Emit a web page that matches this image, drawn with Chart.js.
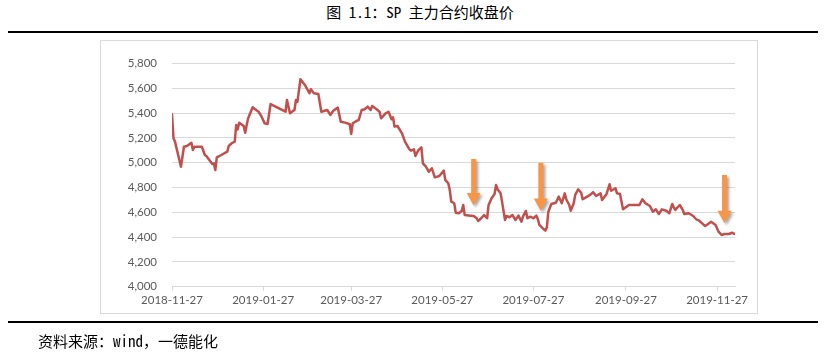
<!DOCTYPE html>
<html>
<head>
<meta charset="utf-8">
<script src="https://cdn.jsdelivr.net/npm/chart.js@4/dist/chart.umd.min.js"></script>
<style>
html,body{margin:0;padding:0;background:#fff;}
#wrap{position:relative;width:840px;height:352px;overflow:hidden;background:#fff;}
#title{position:absolute;left:0;top:2px;width:840px;text-align:center;font-family:"Noto Sans Mono CJK SC","Noto Sans CJK SC",sans-serif;font-weight:500;font-size:15px;line-height:20px;color:#000;white-space:pre;}
#rule1{position:absolute;left:8px;top:31px;width:810px;height:2px;background:#000;}
#box{position:absolute;left:100px;top:40px;width:656px;height:272px;border:1px solid #D9D9D9;}
#rule2{position:absolute;left:8px;top:321px;width:810px;height:2px;background:#000;}
#foot{position:absolute;left:38px;top:331px;font-family:"Noto Sans Mono CJK SC","Noto Sans CJK SC",sans-serif;font-weight:500;font-size:15px;line-height:20px;color:#000;white-space:pre;}
#c{position:absolute;left:0;top:0;}
</style>
</head>
<body>
<div id="wrap">
  <div id="title">图 1.1：SP 主力合约收盘价</div>
  <div id="rule1"></div>
  <div id="box"></div>
  <canvas id="c" width="840" height="352"></canvas>
  <div id="rule2"></div>
  <div id="foot">资料来源：wind，一德能化</div>
</div>
<script>
// ---- data ----
const axisStart = '2018-11-27';
const axisEnd = '2019-12-09';
const tickDates = ['2018-11-27','2019-01-27','2019-03-27','2019-05-27','2019-07-27','2019-09-27','2019-11-27'];
const yMin = 4000, yMax = 5800, yStep = 200;

const dates = [
'2018-11-27','2018-11-28','2018-11-29','2018-12-03','2018-12-05','2018-12-07','2018-12-10','2018-12-11','2018-12-12','2018-12-17',
'2018-12-19','2018-12-20','2018-12-24','2018-12-25','2018-12-26','2018-12-27','2018-12-30','2019-01-03','2019-01-04','2019-01-06',
'2019-01-08','2019-01-09','2019-01-10','2019-01-11','2019-01-14','2019-01-15','2019-01-16','2019-01-17','2019-01-20','2019-01-23',
'2019-01-24','2019-01-26','2019-01-28','2019-01-30','2019-02-01','2019-02-11','2019-02-12','2019-02-14','2019-02-17','2019-02-18',
'2019-02-19','2019-02-21','2019-02-24','2019-02-27','2019-02-28','2019-03-02','2019-03-05','2019-03-07','2019-03-11','2019-03-13',
'2019-03-15','2019-03-18','2019-03-20','2019-03-23','2019-03-26','2019-03-27','2019-03-28','2019-03-31','2019-04-01','2019-04-03',
'2019-04-05','2019-04-07','2019-04-09','2019-04-10','2019-04-13','2019-04-15','2019-04-16','2019-04-19','2019-04-21','2019-04-23',
'2019-04-24','2019-04-25','2019-04-27','2019-04-30','2019-05-02','2019-05-05','2019-05-06','2019-05-08','2019-05-09','2019-05-11',
'2019-05-13','2019-05-14','2019-05-16','2019-05-18','2019-05-20','2019-05-22','2019-05-25','2019-05-28','2019-05-29','2019-05-31',
'2019-06-01','2019-06-02','2019-06-04','2019-06-05','2019-06-07','2019-06-09','2019-06-10','2019-06-11','2019-06-15','2019-06-17',
'2019-06-19','2019-06-20','2019-06-22','2019-06-24','2019-06-26','2019-06-27','2019-06-29','2019-07-01','2019-07-02','2019-07-03',
'2019-07-05','2019-07-06','2019-07-08','2019-07-09','2019-07-11','2019-07-13','2019-07-15','2019-07-17','2019-07-19','2019-07-20',
'2019-07-22','2019-07-23','2019-07-25','2019-07-27','2019-07-29','2019-07-30','2019-07-31','2019-08-03','2019-08-04','2019-08-05',
'2019-08-06','2019-08-08','2019-08-11','2019-08-13','2019-08-15','2019-08-17','2019-08-18','2019-08-20','2019-08-21','2019-08-23',
'2019-08-24','2019-08-26','2019-08-28','2019-08-29','2019-09-01','2019-09-03','2019-09-05','2019-09-07','2019-09-10','2019-09-11',
'2019-09-14','2019-09-16','2019-09-17','2019-09-20','2019-09-21','2019-09-23','2019-09-25','2019-09-29','2019-10-06','2019-10-08',
'2019-10-10','2019-10-13','2019-10-15','2019-10-17','2019-10-19','2019-10-21','2019-10-24','2019-10-26','2019-10-28','2019-10-29',
'2019-10-30','2019-11-02','2019-11-04','2019-11-05','2019-11-08','2019-11-11','2019-11-13','2019-11-15','2019-11-17','2019-11-19',
'2019-11-21','2019-11-23','2019-11-26','2019-11-28','2019-11-30','2019-12-02','2019-12-05','2019-12-07','2019-12-09'
];

const closes = [
5390,5197,5170,4968,5129,5135,5161,5102,5129,5129,
5062,5054,4990,4995,4941,5043,5062,5089,5135,5157,
5170,5304,5269,5323,5296,5242,5304,5358,5447,5419,
5411,5371,5318,5312,5473,5411,5506,5398,5425,5506,
5492,5673,5627,5560,5592,5560,5554,5411,5425,5385,
5419,5444,5331,5323,5310,5232,5318,5339,5344,5425,
5431,5452,5425,5457,5431,5411,5358,5398,5411,5350,
5366,5291,5296,5237,5170,5108,5097,5108,5054,5102,
5124,4995,4968,4927,4955,4882,4893,4936,4861,4834,
4780,4686,4673,4597,4592,4611,4659,4578,4573,4570,
4552,4530,4552,4578,4552,4659,4713,4748,4820,4786,
4753,4686,4538,4570,4560,4578,4538,4573,4524,4565,
4611,4552,4565,4552,4573,4544,4498,4463,4452,4479,
4605,4667,4677,4726,4673,4753,4705,4659,4613,4673,
4740,4786,4758,4705,4726,4740,4762,4731,4753,4699,
4748,4826,4774,4794,4753,4748,4624,4659,4659,4705,
4673,4651,4605,4624,4586,4624,4613,4592,4667,4640,
4619,4659,4619,4586,4592,4570,4544,4532,4511,4490,
4506,4524,4498,4444,4417,4425,4425,4435,4425
];

// annotation arrows (orange, pointing down)
const arrowDates = ['2019-06-17','2019-08-01','2019-12-02'];
const arrowFrom  = [5030, 5000, 4900];
const arrowTo    = [4655, 4610, 4512];

// ---- helpers ----
const day = s => (Date.parse(s + 'T00:00:00Z') - Date.parse(axisStart + 'T00:00:00Z')) / 864e5;

const arrowPlugin = {
  id: 'arrows',
  afterDatasetsDraw(chart) {
    const {ctx, scales: {x, y}} = chart;
    arrowDates.forEach((d, i) => {
      const px = x.getPixelForValue(day(d));
      const y0 = y.getPixelForValue(arrowFrom[i]);
      const y1 = y.getPixelForValue(arrowTo[i]);
      const hw = 7, hh = 12.5, sw = 2.5;
      ctx.save();
      ctx.shadowColor = 'rgba(0,0,0,0.35)';
      ctx.shadowBlur = 3;
      ctx.shadowOffsetX = 2;
      ctx.shadowOffsetY = 2;
      ctx.fillStyle = '#F79646';
      ctx.beginPath();
      ctx.moveTo(px - sw, y0);
      ctx.lineTo(px + sw, y0);
      ctx.lineTo(px + sw, y1 - hh);
      ctx.lineTo(px + hw, y1 - hh);
      ctx.lineTo(px, y1);
      ctx.lineTo(px - hw, y1 - hh);
      ctx.lineTo(px - sw, y1 - hh);
      ctx.closePath();
      ctx.fill();
      ctx.restore();
    });
  }
};

new Chart(document.getElementById('c'), {
  type: 'line',
  data: {
    datasets: [{
      label: 'SP',
      data: dates.map((d, i) => ({x: day(d), y: closes[i]})),
      borderColor: '#C0504D',
      borderWidth: 2.5,
      pointRadius: 0,
      tension: 0,
      borderJoinStyle: 'round',
      borderCapStyle: 'round',
      fill: false
    }]
  },
  options: {
    responsive: false,
    animation: false,
    devicePixelRatio: 1,
    layout: {padding: {left: 100, right: 105, top: 63.5, bottom: 39.3}},
    plugins: {legend: {display: false}, tooltip: {enabled: false}},
    scales: {
      x: {
        type: 'linear',
        min: 0,
        max: day(axisEnd),
        afterBuildTicks: s => { s.ticks = tickDates.map(d => ({value: day(d)})); },
        afterFit: s => { s.height = 26; },
        ticks: {
          autoSkip: false,
          maxRotation: 0,
          color: '#595959',
          font: {family: 'Lato', size: 11.5},
          padding: 3,
          callback: (v, i) => tickDates[i]
        },
        grid: {drawOnChartArea: false, drawTicks: true, tickLength: 4, color: '#D9D9D9'},
        border: {color: '#D9D9D9', width: 1}
      },
      y: {
        min: yMin,
        max: yMax,
        afterFit: s => { s.width = 72; },
        ticks: {
          stepSize: yStep,
          color: '#595959',
          font: {family: 'Lato', size: 11.5},
          padding: 15,
          callback: v => v.toLocaleString('en-US')
        },
        grid: {color: '#D9D9D9', drawTicks: false},
        border: {display: false}
      }
    }
  },
  plugins: [arrowPlugin]
});
</script>
</body>
</html>
